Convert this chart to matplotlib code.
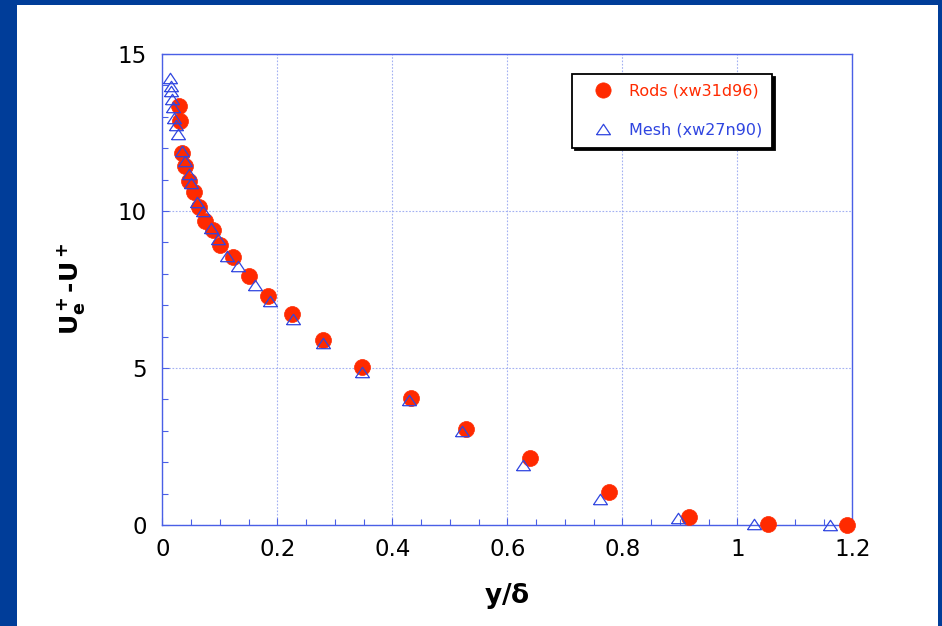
import matplotlib
matplotlib.use("Agg")
import matplotlib.pyplot as plt
from matplotlib.patches import Rectangle
from matplotlib.ticker import MultipleLocator, FixedLocator, FixedFormatter

# Defect profiles in outer scaling: U+_e - U+ versus y/delta
rods_y = [0.0296, 0.0308, 0.0337, 0.0395, 0.0459, 0.0546, 0.0638, 0.0748, 0.0877,
          0.1003, 0.1224, 0.1503, 0.1843, 0.2256, 0.280, 0.347, 0.4325, 0.529,
          0.6395, 0.777, 0.9155, 1.053, 1.190]
rods_defect = [13.34, 12.86, 11.86, 11.43, 10.95, 10.61, 10.13, 9.68, 9.39,
               8.91, 8.54, 7.92, 7.29, 6.71, 5.88, 5.03, 4.04, 3.05,
               2.14, 1.04, 0.25, 0.04, 0.0]

mesh_y = [0.0134, 0.0146, 0.0157, 0.0169, 0.0192, 0.0203, 0.0238, 0.0273, 0.0336,
          0.0395, 0.0459, 0.0505, 0.0599, 0.0713, 0.0842, 0.0974, 0.1130, 0.1322,
          0.1607, 0.1873, 0.2268, 0.280, 0.347, 0.429, 0.522, 0.628, 0.761,
          0.896, 1.029, 1.162]
mesh_defect = [14.22, 13.97, 13.82, 13.57, 13.32, 12.95, 12.74, 12.44, 11.90,
               11.60, 11.19, 10.88, 10.30, 10.00, 9.45, 9.11, 8.58, 8.25,
               7.65, 7.13, 6.55, 5.79, 4.87, 3.98, 2.98, 1.90, 0.82,
               0.22, 0.03, 0.0]

rods_label = "Rods (xw31d96)"
mesh_label = "Mesh (xw27n90)"
x_ticks = [0, 0.2, 0.4, 0.6, 0.8, 1.0, 1.2]
x_tick_labels = ["0", "0.2", "0.4", "0.6", "0.8", "1", "1.2"]
y_ticks = [0, 5, 10, 15]
y_tick_labels = ["0", "5", "10", "15"]

RED = "#ff2a00"
BLUE = "#2f45e0"
AXBLUE = "#4a5fe6"
FRAME = "#003d99"

fig = plt.figure(figsize=(9.42, 6.26), dpi=100)
fig.patch.set_facecolor("white")

# slide frame
W, H = 942.0, 626.0
fig.patches.append(Rectangle((0, 0), 17 / W, 1, transform=fig.transFigure,
                             facecolor=FRAME, edgecolor="none", zorder=0))
fig.patches.append(Rectangle((0, 1 - 5 / H), 1, 5 / H, transform=fig.transFigure,
                             facecolor=FRAME, edgecolor="none", zorder=0))
fig.patches.append(Rectangle((1 - 4 / W, 0), 4 / W, 1, transform=fig.transFigure,
                             facecolor=FRAME, edgecolor="none", zorder=0))

ax = fig.add_axes([162.3 / W, 1 - 525 / H, 690 / W, 471 / H])
ax.set_xlim(0, 1.2)
ax.set_ylim(0, 15)

# slightly flattened open triangle
tri = [(-1, -0.75), (1, -0.75), (0, 0.75), (-1, -0.75)]

ax.plot(rods_y, rods_defect, linestyle="none", marker="o", markersize=11.5,
        markerfacecolor=RED, markeredgecolor=RED, markeredgewidth=0.5,
        label=rods_label, clip_on=False, zorder=3)
ax.plot(mesh_y, mesh_defect, linestyle="none", marker=tri, markersize=10,
        markerfacecolor="none", markeredgecolor=BLUE, markeredgewidth=0.9,
        label=mesh_label, clip_on=False, zorder=4)

ax.xaxis.set_major_locator(FixedLocator(x_ticks))
ax.xaxis.set_major_formatter(FixedFormatter(x_tick_labels))
ax.yaxis.set_major_locator(FixedLocator(y_ticks))
ax.yaxis.set_major_formatter(FixedFormatter(y_tick_labels))
ax.xaxis.set_minor_locator(MultipleLocator(0.05))
ax.yaxis.set_minor_locator(MultipleLocator(1))

ax.grid(True, which="major", color="#a3b0f2", linestyle=(0, (1.5, 1.5)), linewidth=0.8)
for s in ax.spines.values():
    s.set_color(AXBLUE)
    s.set_linewidth(1.0)

ax.tick_params(which="both", direction="in", color=AXBLUE, top=False, right=False,
               labelsize=16.5, labelcolor="black")
ax.tick_params(which="major", length=5, width=0.8)
ax.tick_params(which="minor", length=4, width=0.8)
ax.tick_params(axis="x", pad=9)
ax.tick_params(axis="y", pad=11)

ax.set_xlabel(r"$\mathbf{y/\delta}$", fontsize=19, labelpad=15)
ax.set_ylabel(r"$\mathbf{U^+_e}$-$\mathbf{U^+}$", fontsize=18, fontweight="bold",
              labelpad=22)

leg = ax.legend(loc="upper left", bbox_to_anchor=(0.594, 0.958), borderaxespad=0,
                fancybox=False, frameon=True, edgecolor="black", fontsize=11.5,
                handlelength=2.6, handletextpad=0.36, labelspacing=1.5,
                borderpad=0.62, shadow={"color": "black", "alpha": 1.0},
                numpoints=1)
leg.get_frame().set_linewidth(1.3)
leg.get_texts()[0].set_color(RED)
leg.get_texts()[1].set_color(BLUE)
handles = leg.legend_handles
handles[0].set_markersize(11)
handles[1].set_markersize(10)

fig.savefig("out.png", dpi=100)
